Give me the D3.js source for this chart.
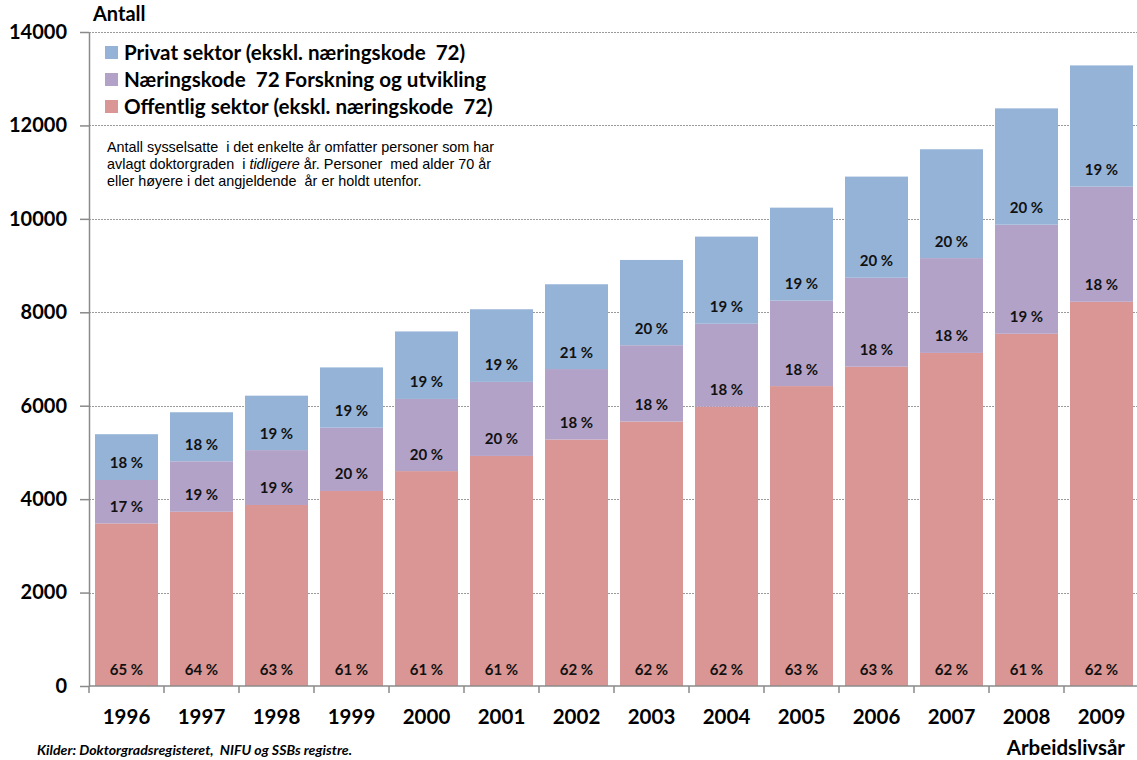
<!DOCTYPE html>
<html>
<head>
<meta charset="utf-8">
<script src="https://cdn.jsdelivr.net/npm/d3@7"></script>
<style>
  body { margin: 0; background: #fff; }
  svg { display: block; font-family: Lato, "Open Sans", sans-serif; }
  .axes path, .axes line { stroke: #8a8a8a; stroke-width: 1.5; }
  .axes text { font-weight: bold; fill: #000; }
  .grid line { stroke: #9a9a9a; stroke-width: 1; stroke-dasharray: 2,1; }
  .lbl { font-weight: bold; font-size: 15px; fill: #111; text-anchor: middle; }
</style>
</head>
<body>
<script>
// data
const years = ["1996", "1997", "1998", "1999", "2000", "2001", "2002",
               "2003", "2004", "2005", "2006", "2007", "2008", "2009"];
const offentlig = [3480, 3730, 3875, 4175, 4600, 4925, 5275, 5660, 5980, 6420, 6835, 7130, 7540, 8225];
const naering72 = [930, 1080, 1175, 1355, 1545, 1585, 1510, 1635, 1775, 1830, 1905, 2030, 2335, 2465];
const privat = [980, 1050, 1165, 1290, 1445, 1555, 1815, 1825, 1865, 1990, 2165, 2330, 2490, 2595];

const pctOffentlig = [65, 64, 63, 61, 61, 61, 62, 62, 62, 63, 63, 62, 61, 62];
const pctNaering = [17, 19, 19, 20, 20, 20, 18, 18, 18, 18, 18, 18, 19, 18];
const pctPrivat = [18, 18, 19, 19, 19, 19, 21, 20, 19, 19, 20, 20, 20, 19];

const yTicks = [0, 2000, 4000, 6000, 8000, 10000, 12000, 14000];

const seriesNames = ["Offentlig sektor (ekskl. næringskode  72)",
                     "Næringskode  72 Forskning og utvikling",
                     "Privat sektor (ekskl. næringskode  72)"];
const colors = ["#d99694", "#b3a2c7", "#95b3d7"];

const noteLines = ["Antall sysselsatte  i det enkelte år omfatter personer som har",
                   "avlagt doktorgraden  i |tidligere| år. Personer  med alder 70 år",
                   "eller høyere i det angjeldende  år er holdt utenfor."];

const w = 1137;
const h = 760;

const svg = d3.select("body")
              .append("svg")
              .attr("width", w)
              .attr("height", h);

const xScale = d3.scaleBand()
                 .domain(years)
                 .range([89, 1139])
                 .paddingInner(0.16)
                 .paddingOuter(0.08);

const yScale = d3.scaleLinear()
                 .domain([0, 14000])
                 .range([686, 32]);

// gridlines

svg.append("g")
   .attr("class", "grid")
   .selectAll("line")
   .data(yTicks.filter(d => d > 0))
   .enter()
   .append("line")
   .attr("x1", 89)
   .attr("x2", w)
   .attr("y1", d => Math.round(yScale(d)) + 0.5)
   .attr("y2", d => Math.round(yScale(d)) + 0.5);

// stacked bars

const table = years.map((y, i) => ({ year: y, s0: offentlig[i], s1: naering72[i], s2: privat[i] }));
const stack = d3.stack().keys(["s0", "s1", "s2"])(table);
const pcts = [pctOffentlig, pctNaering, pctPrivat];

const layers = svg.append("g")
   .selectAll("g")
   .data(stack)
   .enter()
   .append("g")
   .attr("fill", (d, i) => colors[i]);

layers.selectAll("rect")
   .data(d => d)
   .enter()
   .append("rect")
   .attr("x", d => xScale(d.data.year))
   .attr("y", d => yScale(d[1]))
   .attr("width", xScale.bandwidth())
   .attr("height", d => yScale(d[0]) - yScale(d[1]));

// percent labels (inside base)

stack.forEach((layer, k) => {
  svg.append("g")
     .selectAll("text")
     .data(layer)
     .enter()
     .append("text")
     .attr("class", "lbl")
     .attr("x", d => xScale(d.data.year) + xScale.bandwidth() / 2)
     .attr("y", d => yScale(d[0]) - 11.5)
     .text((d, i) => pcts[k][i] + " %");
});

// axes

const yAxis = d3.axisLeft(yScale)
                .tickValues(yTicks)
                .tickSize(9)
                .tickSizeOuter(0)
                .tickPadding(13)
                .tickFormat(d => d);

svg.append("g")
   .attr("class", "axes")
   .attr("transform", "translate(89, 0)")
   .call(yAxis)
   .selectAll("text")
   .attr("font-size", 20)
   .attr("font-family", "Lato");

const xAxis = d3.axisBottom(xScale)
                .tickSize(0)
                .tickPadding(23);

const gx = svg.append("g")
   .attr("class", "axes")
   .attr("transform", "translate(0, 686)")
   .call(xAxis);

gx.selectAll("text")
  .attr("font-size", 20.5)
  .attr("font-family", "Lato");

gx.select(".domain").attr("d", "M89,0H1139");

const step = xScale.step();
const gap = step - xScale.bandwidth();
gx.selectAll(".sep")
  .data(years)
  .enter()
  .append("line")
  .attr("class", "sep")
  .attr("x1", d => xScale(d) - gap / 2)
  .attr("x2", d => xScale(d) - gap / 2)
  .attr("y1", 0)
  .attr("y2", 7);

// titles

svg.append("text")
   .attr("x", 93)
   .attr("y", 21)
   .attr("font-size", 20)
   .attr("font-weight", "bold")
   .text("Antall");

svg.append("text")
   .attr("x", 1125)
   .attr("y", 755)
   .attr("text-anchor", "end")
   .attr("font-size", 20.5)
   .attr("font-weight", "bold")
   .text("Arbeidslivsår");

svg.append("text")
   .attr("x", 37)
   .attr("y", 755)
   .attr("font-size", 13.5)
   .attr("font-weight", "bold")
   .attr("font-style", "italic")
   .attr("textLength", 315)
   .attr("lengthAdjust", "spacingAndGlyphs")
   .style("white-space", "pre")
   .text("Kilder: Doktorgradsregisteret,  NIFU og SSBs registre.");

// legend

const legend = svg.append("g");
[2, 1, 0].forEach((k, r) => {
  legend.append("rect")
        .attr("x", 105)
        .attr("y", 46 + r * 27)
        .attr("width", 13)
        .attr("height", 13)
        .attr("fill", colors[k]);
  legend.append("text")
        .attr("x", 124)
        .attr("y", 59.5 + r * 27)
        .attr("font-size", 20.6)
        .attr("font-weight", "bold")
        .style("white-space", "pre")
        .text(seriesNames[k]);
});

// note

const note = svg.append("text")
   .attr("font-family", "'Liberation Sans', Arial, sans-serif")
   .attr("font-size", 14.4)
   .style("white-space", "pre");

noteLines.forEach((line, i) => {
  const t = note.append("tspan")
                .attr("x", 107)
                .attr("y", 152 + i * 17);
  line.split("|").forEach((part, j) => {
    t.append("tspan")
     .attr("font-style", j % 2 ? "italic" : "normal")
     .text(part);
  });
});
</script>
</body>
</html>
